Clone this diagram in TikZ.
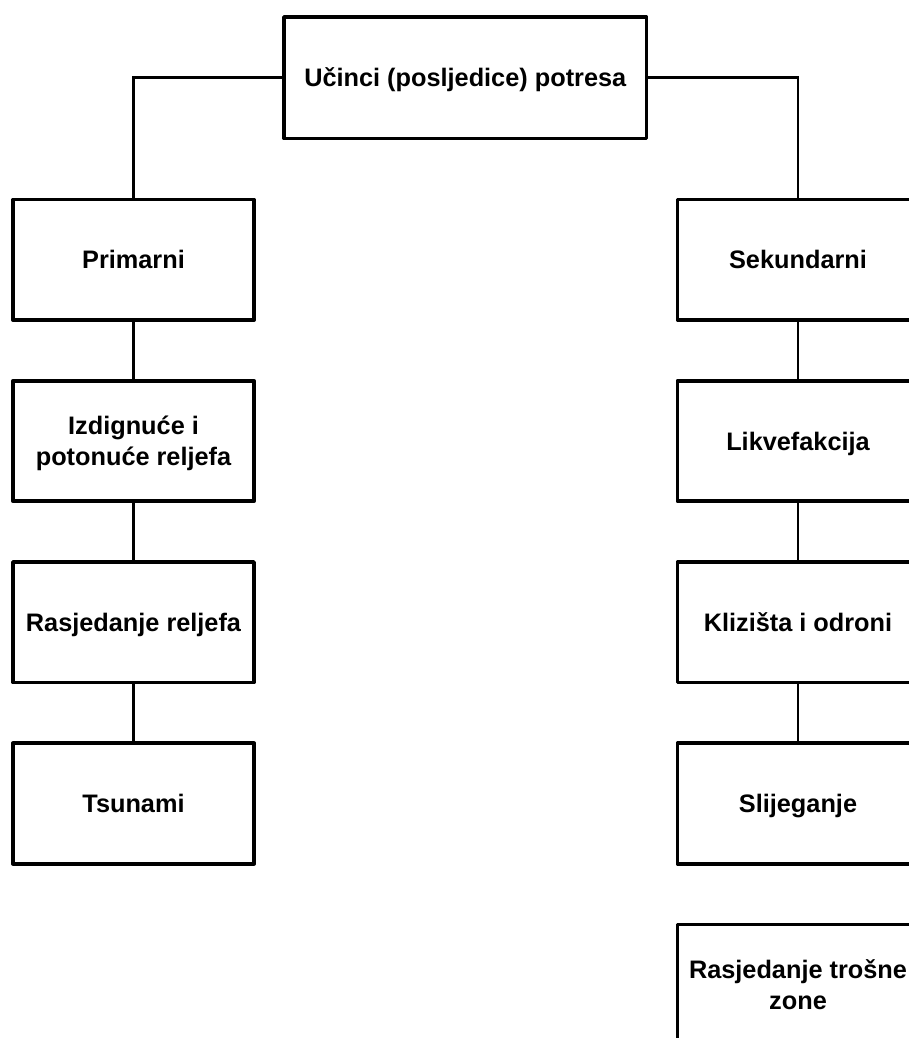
\documentclass[tikz,border=0pt]{standalone}
\usepackage{fontspec}
\setmainfont{Liberation Sans}
\begin{document}
\begin{tikzpicture}[x=1pt,y=-1pt,
  box/.style={draw=black, line width=3.7pt, line join=round, rectangle, inner sep=2pt,
    minimum width=241pt, minimum height=120.5pt, align=center,
    text height=18pt, text depth=0pt,
    font=\fontsize{25.3pt}{31pt}\selectfont\bfseries},
  twoline/.style={text height=49pt},
  topbox/.style={box, minimum width=362.5pt, minimum height=121.3pt},
  link/.style={draw=black, line width=2.7pt}]
\useasboundingbox (0,0) rectangle (909,1038);
\clip (0,0) rectangle (909,1038);
\node[topbox] (top) at (465.25,77.7) {Učinci (posljedice) potresa};
\node[box] (p0) at (133.5,259.8) {Primarni};
\node[box, twoline] (p1) at (133.5,441) {Izdignuće i\\potonuće reljefa};
\node[box] (p2) at (133.5,622.2) {Rasjedanje reljefa};
\node[box] (p3) at (133.5,803.5) {Tsunami};
\node[box] (s0) at (798,259.8) {Sekundarni};
\node[box] (s1) at (798,441) {Likvefakcija};
\node[box] (s2) at (798,622.2) {Klizišta i odroni};
\node[box] (s3) at (798,803.5) {Slijeganje};
\node[box, twoline] (s4) at (798,984.7) {Rasjedanje trošne\\zone};
\draw[link] (top.west) -| (p0.north);
\draw[link] (top.east) -| (s0.north);
\draw[link] (p0) -- (p1);
\draw[link] (p1) -- (p2);
\draw[link] (p2) -- (p3);
\draw[link] (s0) -- (s1);
\draw[link] (s1) -- (s2);
\draw[link] (s2) -- (s3);
\end{tikzpicture}
\end{document}
